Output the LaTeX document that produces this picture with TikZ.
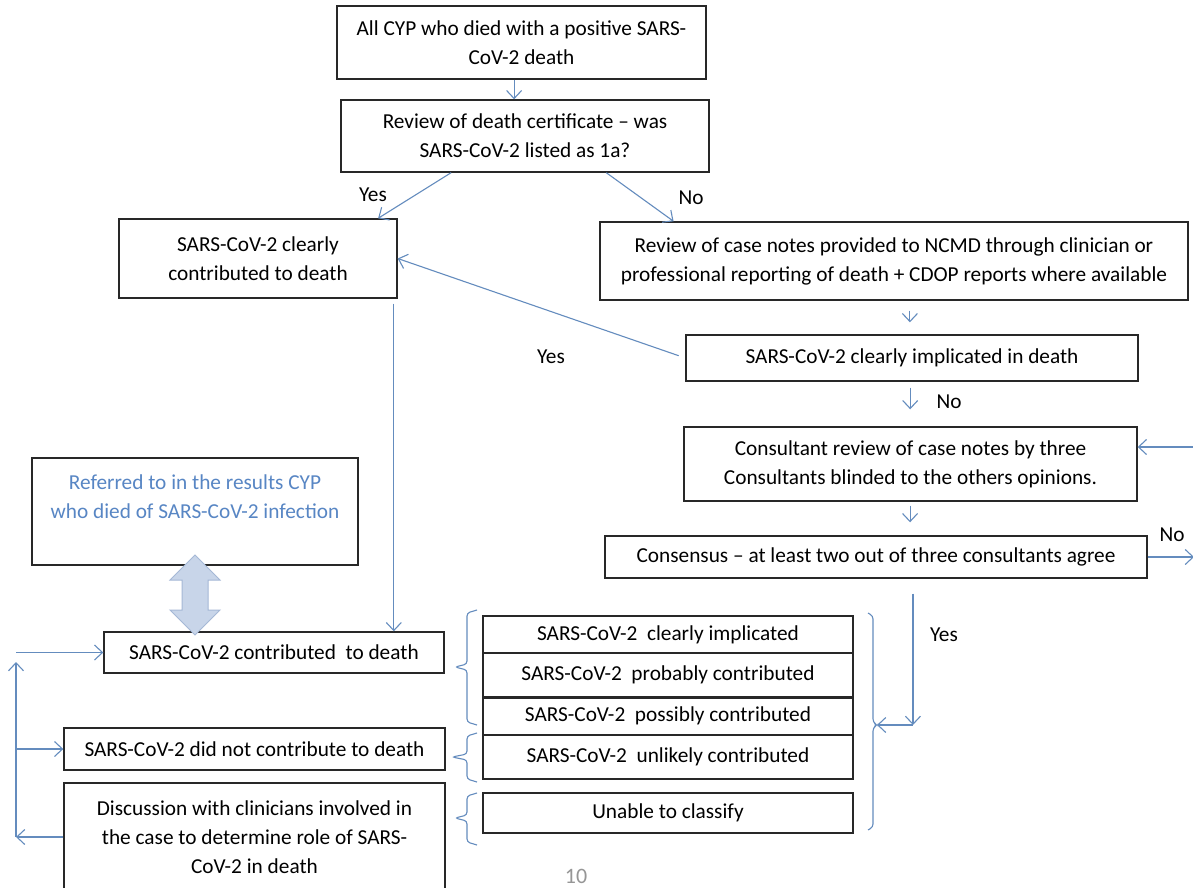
\documentclass[tikz,border=0pt]{standalone}
\usepackage{fontspec}
\setmainfont{Carlito}
\usetikzlibrary{arrows.meta,calc}
\definecolor{ln}{RGB}{100,140,190}
\definecolor{bd}{RGB}{40,40,40}
\definecolor{reftxt}{RGB}{88,134,196}
\definecolor{dafill}{RGB}{200,213,233}
\definecolor{daline}{RGB}{165,184,214}
\definecolor{pg}{RGB}{150,150,150}
\begin{document}
\begin{tikzpicture}[x=1pt,y=-1pt,
  font=\fontsize{21.3}{29}\selectfont,
  box/.style={draw=bd,line width=1.4pt,inner sep=0pt,align=center},
  arr/.style={draw=ln,line width=1.1pt,-{Straight Barb[length=8pt,width=15pt]}},
  lnk/.style={draw=ln,line width=1.1pt},
  brc/.style={draw=ln,line width=1.1pt,rounded corners=3pt},
  lbl/.style={inner sep=0pt}]
\useasboundingbox (0,0) rectangle (1193,888);
\clip (0,0) rectangle (1193,888);
\fill[white] (0,0) rectangle (1193,888);

% boxes
\node[box,minimum width=369,minimum height=73] (A) at (521.5,42.5) {All CYP who died with a positive SARS-\\CoV-2 death};
\node[box,minimum width=368,minimum height=72] (B) at (525,136) {Review of death certificate -- was\\SARS-CoV-2 listed as 1a?};
\node[box,minimum width=278,minimum height=79] (C) at (258,258.5) {SARS-CoV-2 clearly\\contributed to death};
\node[box,minimum width=588,minimum height=78] (D) at (894,261) {Review of case notes provided to NCMD through clinician or\\professional reporting of death + CDOP reports where available};
\node[box,minimum width=452,minimum height=46] (E) at (912,358) {SARS-CoV-2 clearly implicated in death};
\node[box,minimum width=453,minimum height=74] (F) at (910.5,464) {Consultant review of case notes by three\\Consultants blinded to the others opinions.};
\node[box,minimum width=542,minimum height=42] (G) at (876,557) {Consensus -- at least two out of three consultants agree};
\node[box,minimum width=326,minimum height=107,text=reftxt] (Ref) at (195,511.5) {Referred to in the results CYP\\who died of SARS-CoV-2 infection\\\mbox{}};
\node[box,minimum width=340,minimum height=41] (H) at (274,652.5) {SARS-CoV-2 contributed~ to death};
\node[box,minimum width=381,minimum height=42] (I) at (254.5,749) {SARS-CoV-2 did not contribute to death};
\node[box,minimum width=381,minimum height=108] (J) at (254.5,837) {Discussion with clinicians involved in\\the case to determine role of SARS-\\CoV-2 in death};

\node[box,minimum width=370,minimum height=37] (R1) at (668,634.5) {SARS-CoV-2~ clearly implicated};
\node[box,minimum width=370,minimum height=44] (R2) at (668,675) {SARS-CoV-2~ probably contributed};
\node[box,minimum width=370,minimum height=38] (R3) at (668,716) {SARS-CoV-2~ possibly contributed};
\node[box,minimum width=370,minimum height=44] (R4) at (668,757) {SARS-CoV-2~ unlikely contributed};
\node[box,minimum width=370,minimum height=40] (R5) at (668,813) {Unable to classify};
\draw[bd,line width=2.6pt] (R2.south west) -- (R2.south east);

% labels
\node[lbl] (yes1) at (373,195) {Yes};
\node[lbl] (no1) at (691,198) {No};
\node[lbl] (yes2) at (551,357) {Yes};
\node[lbl] (no2) at (949,402) {No};
\node[lbl] (no3) at (1172,535) {No};
\node[lbl] (yes3) at (944,635) {Yes};
\node[lbl,text=pg,font=\fontsize{22}{26}\selectfont] (pgn) at (576,876) {10};

% double arrow
\filldraw[fill=dafill,draw=daline,line width=1pt]
  (195,555) -- (220,580) -- (208,580) -- (208,610) -- (220,610) -- (195,635)
  -- (170,610) -- (182,610) -- (182,580) -- (170,580) -- cycle;

% braces
\draw[brc] (477,610) -- (467,613) -- (467,664) -- (455,667) -- (467,670) -- (467,722) -- (477,725);
\draw[brc] (477,733) -- (467,736) -- (467,754) -- (452,757) -- (467,760) -- (467,779) -- (477,782);
\draw[brc] (477,793) -- (467,796) -- (467,815) -- (455,818) -- (467,821) -- (467,842) -- (477,845);
\coordinate (brTip) at (877,725);
\draw[brc] (868,613) -- (873,616) -- (873,722) -- (brTip) -- (873,728) -- (873,827) -- (868,830);

% connectors
\coordinate (aS) at ($(A.south west)!0.48!(A.south east)$);
\draw[arr] (aS) -- (aS |- B.north);
\coordinate (bY) at ($(B.south west)!0.30!(B.south east)$);
\coordinate (bN) at ($(B.south west)!0.72!(B.south east)$);
\draw[arr] (bY) -- ($(C.north west)!0.93!(C.north east)$);
\draw[arr] (bN) -- ($(D.north west)!0.126!(D.north east)$);
\coordinate (dS) at ($(D.south west)!0.527!(D.south east)$);
\draw[arr,shorten <=10pt,shorten >=12pt] (dS) -- (dS |- E.north);
\coordinate (eS) at ($(E.south west)!0.496!(E.south east)$);
\draw[arr,shorten <=6pt,shorten >=17pt] (eS) -- (eS |- F.north);
\coordinate (fS) at ($(F.south west)!0.499!(F.south east)$);
\draw[arr,shorten <=4pt,shorten >=13pt] (fS) -- (fS |- G.north);
\draw[arr,shorten <=7pt] (E.west) -- (C.east);
\coordinate (cS) at ($(C.south west)!0.986!(C.south east)$);
\draw[arr,shorten <=5pt] (cS) -- (cS |- H.north);
\coordinate (gS) at ($(G.south west)!0.568!(G.south east)$);
\draw[arr,shorten <=15pt] (gS) -- (gS |- brTip);
\draw[arr] (gS |- brTip) -- (brTip);
% right loop
\coordinate (rx) at (1194,447);
\draw[arr] (G.east) -- (G.east -| rx);
\draw[lnk] (G.east -| rx) -- (rx);
\draw[arr] (rx) -- (rx -| F.east);
% left loop
\coordinate (lx) at (16,662);
\draw[arr] (J.west) -- (J.west -| lx);
\draw[arr] (J.west -| lx) -- (lx);
\draw[arr] (H.west -| lx) -- (H.west);
\draw[arr] (I.west -| lx) -- (I.west);
\end{tikzpicture}
\end{document}
